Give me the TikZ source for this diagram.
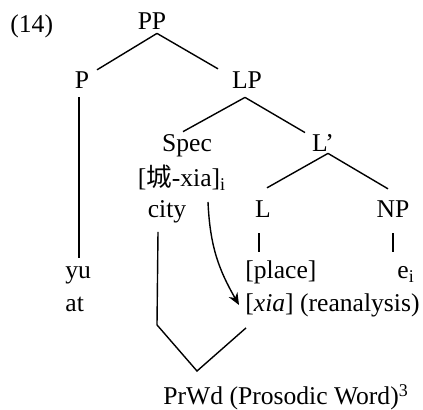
\documentclass[tikz,border=0pt]{standalone}
\usepackage{fontspec}
\setmainfont{Liberation Serif}
\newfontfamily\cjk{Noto Sans CJK SC}
\usetikzlibrary{calc,arrows.meta}

\begin{document}
\begin{tikzpicture}[x=0.5pt,y=-0.5pt,
    lbl/.style={inner sep=0pt,anchor=base,font=\fontsize{12.8}{16}\selectfont},
    branch/.style={line width=0.7pt}]
  \useasboundingbox (0,0) rectangle (423,410);

  \node[lbl,anchor=base west] (ex) at (10,33) {(14)};
  \node[lbl] (pp) at (152,30) {PP};
  \node[lbl] (p) at (82,89) {P};
  \node[lbl] (lp) at (247,89) {LP};
  \node[lbl] (spec) at (187,152) {Spec};
  \node[lbl] (lbar) at (323,152) {L'};
  \node[lbl] (specw) at (182,187) {[{\cjk 城}-xia]\textsubscript{i}};
  \node[lbl] (city) at (167,218) {city};
  \node[lbl] (l) at (263,218) {L};
  \node[lbl] (np) at (393,218) {NP};

  \node[lbl,anchor=base west] (yu) at (65,279) {yu};
  \node[lbl,anchor=base west] (at) at (65,312) {at};
  \node[lbl,anchor=base west] (place) at (245,279) {[place]};
  \node[lbl,anchor=base west] (xia) at (245,312) {[\textit{xia}] (reanalysis)};
  \node[lbl,anchor=base west] (ei) at (397,279) {e\textsubscript{i}};
  \node[lbl,anchor=base west] (prwd) at (163,405) {PrWd (Prosodic Word)\textsuperscript{3}};
  \coordinate (vx) at ($(prwd.north west)+(34,-13)$);

  % branches
  \draw[branch] ($(pp.south)+(5,3)$) -- ($(p.north)+(15,-2)$);
  \draw[branch] ($(pp.south)+(5,3)$) -- ($(lp.north)+(-29,-3)$);
  \draw[branch] ($(lp.south)+(-2,8)$) -- ($(spec.north)+(-4,-3)$);
  \draw[branch] ($(lp.south)+(-2,8)$) -- ($(lbar.north)+(-18,-2)$);
  \draw[branch] ($(lbar.south)+(5,1)$) -- ($(l.north)+(4,-13)$);
  \draw[branch] ($(lbar.south)+(5,1)$) -- ($(np.north)+(-5,-12)$);

  % terminals
  \draw[branch] ($(p.south)+(-3,8)$) -- ($(p.south |- yu.north)+(-3,-9)$);
  \draw[branch] ($(l.south)+(-4,15)$) -- ($(l.south |- place.north)+(-4,-9)$);
  \draw[branch] ($(np.south)+(0,15)$) -- ($(np.south |- place.north)+(0,-9)$);

  % prosodic word and reanalysis
  \draw[branch] ($(city.south)+(-9,8)$) -- ++(-1,93) -- (vx) -- ($(xia.south west)+(1,10)$);
  \draw[branch,-{Stealth[length=6pt,width=5pt]}] ($(specw.south)+(26,11)$)
    .. controls +(2,45) and +(-20,-35) .. ($(xia.base west)+(-6,-7)$);
\end{tikzpicture}
\end{document}
